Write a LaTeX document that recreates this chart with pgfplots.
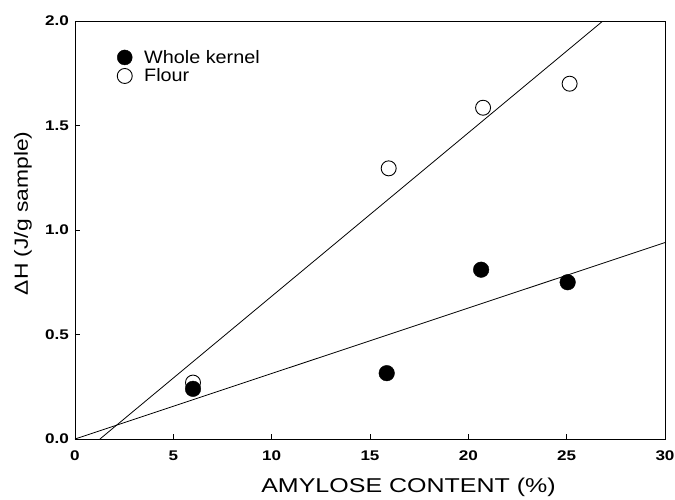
\documentclass[border=0pt]{standalone}
\usepackage{fontspec}
\setmainfont{Liberation Sans}
\usepackage{graphicx}
\usepackage{pgfplots}
\pgfplotsset{compat=1.18}
\usetikzlibrary{calc}
\newcommand\labtxt[1]{\scalebox{1.2}[1]{\fontsize{19}{21}\selectfont #1}}
\newcommand\xlabtxt[1]{\scalebox{1.25}[1]{\fontsize{20}{22}\selectfont #1}}
\newcommand\legtxt[1]{\scalebox{1.1}[1]{\fontsize{18}{20}\selectfont #1}}
\newcommand\tk[1]{\scalebox{1.22}[1]{\fontsize{14}{15}\selectfont\bfseries #1}}
\begin{document}
\begin{tikzpicture}
\begin{axis}[
  name=ax,
  scale only axis,
  width=590pt, height=418pt,
  xmin=0, xmax=30, ymin=0, ymax=2.0,
  xtick={0,5,10,15,20,25,30},
  xticklabels={\tk{0},\tk{5},\tk{10},\tk{15},\tk{20},\tk{25},\tk{30}},
  ytick={0,0.5,1.0,1.5,2.0},
  yticklabels={\tk{0.0},\tk{0.5},\tk{1.0},\tk{1.5},\tk{2.0}},
  xticklabel style={anchor=north, inner sep=0pt, yshift=-12pt},
  yticklabel style={anchor=east, inner sep=0pt, xshift=-6pt},
  tick align=inside,
  xtick pos=bottom, ytick pos=left,
  major tick length=5pt,
  tick style={black, line width=0.7pt},
  axis line style={line width=0.8pt},
  xlabel={\xlabtxt{AMYLOSE CONTENT (\%)}},
  ylabel={\labtxt{ΔH (J/g sample)}},
  xlabel style={at={(axis description cs:0.545,-0.129)}, anchor=base, inner sep=0pt, xshift=12pt},
  ylabel style={at={(axis description cs:-0.088,0.54)}, anchor=center, inner sep=0pt},
  legend style={draw=none, fill=none, at={(0.07,0.935)}, anchor=north west,
    inner sep=0pt, outer sep=0pt, row sep=0pt,
    legend cell align=left},
  legend image code/.code={\draw[#1] (0pt,0pt) circle[radius=7.5pt]; \path (-8pt,0pt) (17pt,0pt);},
]
\addplot[only marks, mark=*, mark size=7.8pt, fill=black, draw=black]
  coordinates {(6.0,0.24) (15.85,0.315) (20.65,0.81) (25.05,0.75)};
\addlegendentry{\legtxt{Whole kernel}}
\addplot[only marks, mark=o, mark size=7.5pt, draw=black, line width=0.9pt]
  coordinates {(6.0,0.27) (15.95,1.295) (20.75,1.585) (25.15,1.70)};
\addlegendentry{\legtxt{Flour}}
\addplot[black, line width=0.8pt, forget plot] coordinates {(0,0) (30,0.94)};
\addplot[black, line width=0.8pt, forget plot] coordinates {(1.27,0) (26.84,2.0)};
\end{axis}
\pgfresetboundingbox
\path ($(ax.south west)+(-75pt,-60pt)$) rectangle ($(ax.north east)+(10pt,21pt)$);
\end{tikzpicture}
\end{document}
